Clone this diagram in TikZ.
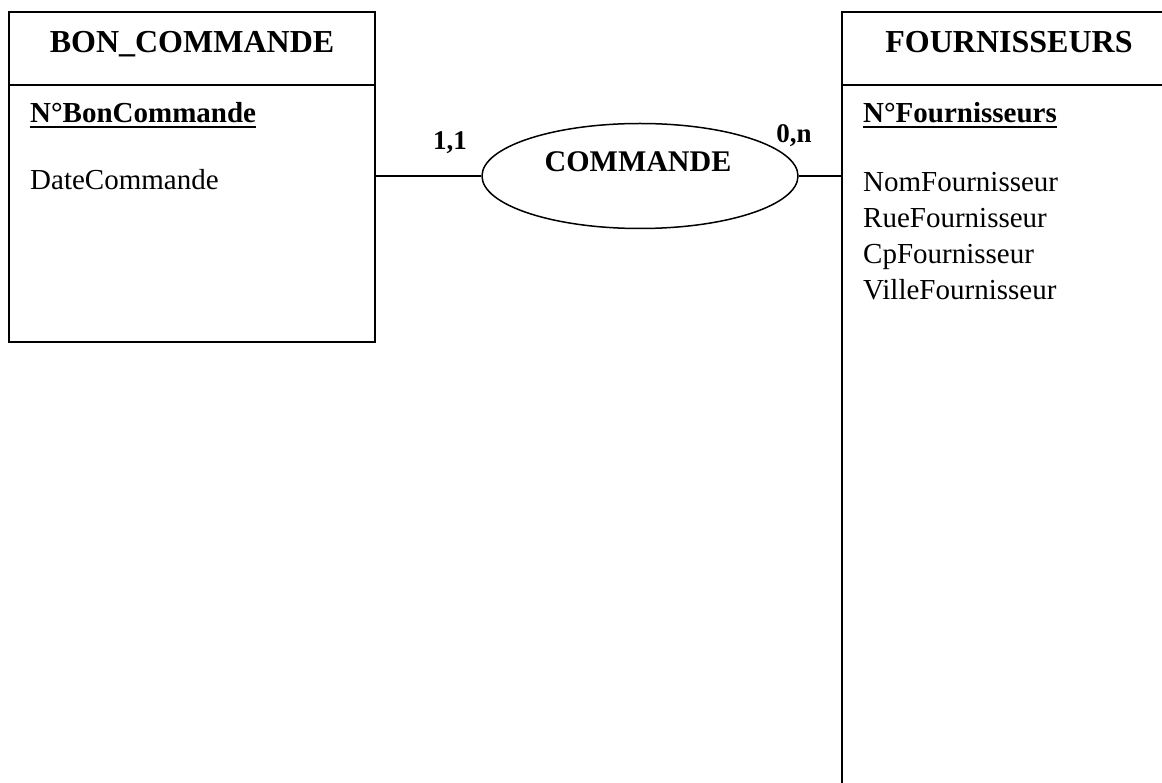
\documentclass[tikz,border=0pt]{standalone}
\usepackage{fontspec}
\setmainfont{Liberation Serif}
\usetikzlibrary{shapes.geometric}
\newcommand\keyul[1]{\setbox0\hbox{#1}\rlap{\rule[-5.5pt]{\wd0}{2.2pt}}\box0}
\begin{document}
\begin{tikzpicture}[x=1pt,y=-1pt,
  entity/.style={draw,line width=2.2pt,rectangle,inner sep=0pt},
  relation/.style={draw,line width=1.5pt,ellipse,inner sep=0pt,minimum width=316pt,minimum height=105pt},
  link/.style={line width=1.5pt},
  hdr/.style={font=\fontsize{32}{36}\selectfont\bfseries,inner sep=0pt},
  attr/.style={font=\fontsize{29}{33}\selectfont,inner sep=0pt,anchor=base west},
  keyattr/.style={font=\fontsize{29}{33}\selectfont\bfseries,inner sep=0pt,anchor=base west},
  card/.style={font=\fontsize{27}{30}\selectfont\bfseries,inner sep=0pt}]
\useasboundingbox (0,0) rectangle (1162,783);
\clip (0,0) rectangle (1162,783);
% entity BON_COMMANDE
\node[entity,minimum width=366pt,minimum height=330pt] (bc) at (192,177) {};
\draw[line width=2.2pt] (bc.west |- 0,85) coordinate (bcl) -- (bc.east |- 0,85) coordinate (bcr);
\node[hdr,anchor=base] (bct) at (192,53) {BON\_COMMANDE};
\node[keyattr] (bck) at (30,123) {\keyul{N°BonCommande}};
\node[attr] (bca1) at (30,190) {DateCommande};
% entity FOURNISSEURS
\node[entity,minimum width=420pt,minimum height=900pt] (fo) at (1052,462) {};
\draw[line width=2.2pt] (fo.west |- 0,85) coordinate (fol) -- (fo.east |- 0,85) coordinate (for);
\node[hdr,anchor=base] (fot) at (1009,53) {FOURNISSEURS};
\node[keyattr] (fok) at (863,123) {\keyul{N°Fournisseurs}};
\node[attr] (foa1) at (863,192) {NomFournisseur};
\node[attr] (foa2) at (863,228) {RueFournisseur};
\node[attr] (foa3) at (863,264) {CpFournisseur};
\node[attr] (foa4) at (863,300) {VilleFournisseur};
% relation
\node[relation] (rel) at (640,176) {};
\node[font=\fontsize{30}{33}\selectfont\bfseries,inner sep=0pt,anchor=base] (relt) at (638,172) {COMMANDE};
\draw[link] (bc.east |- rel.west) -- (rel.west);
\draw[link] (rel.east) -- (fo.west |- rel.east);
\node[card,anchor=base] (c1) at (450,150) {1,1};
\node[card,anchor=base] (c2) at (794,143) {0,n};
\end{tikzpicture}
\end{document}
